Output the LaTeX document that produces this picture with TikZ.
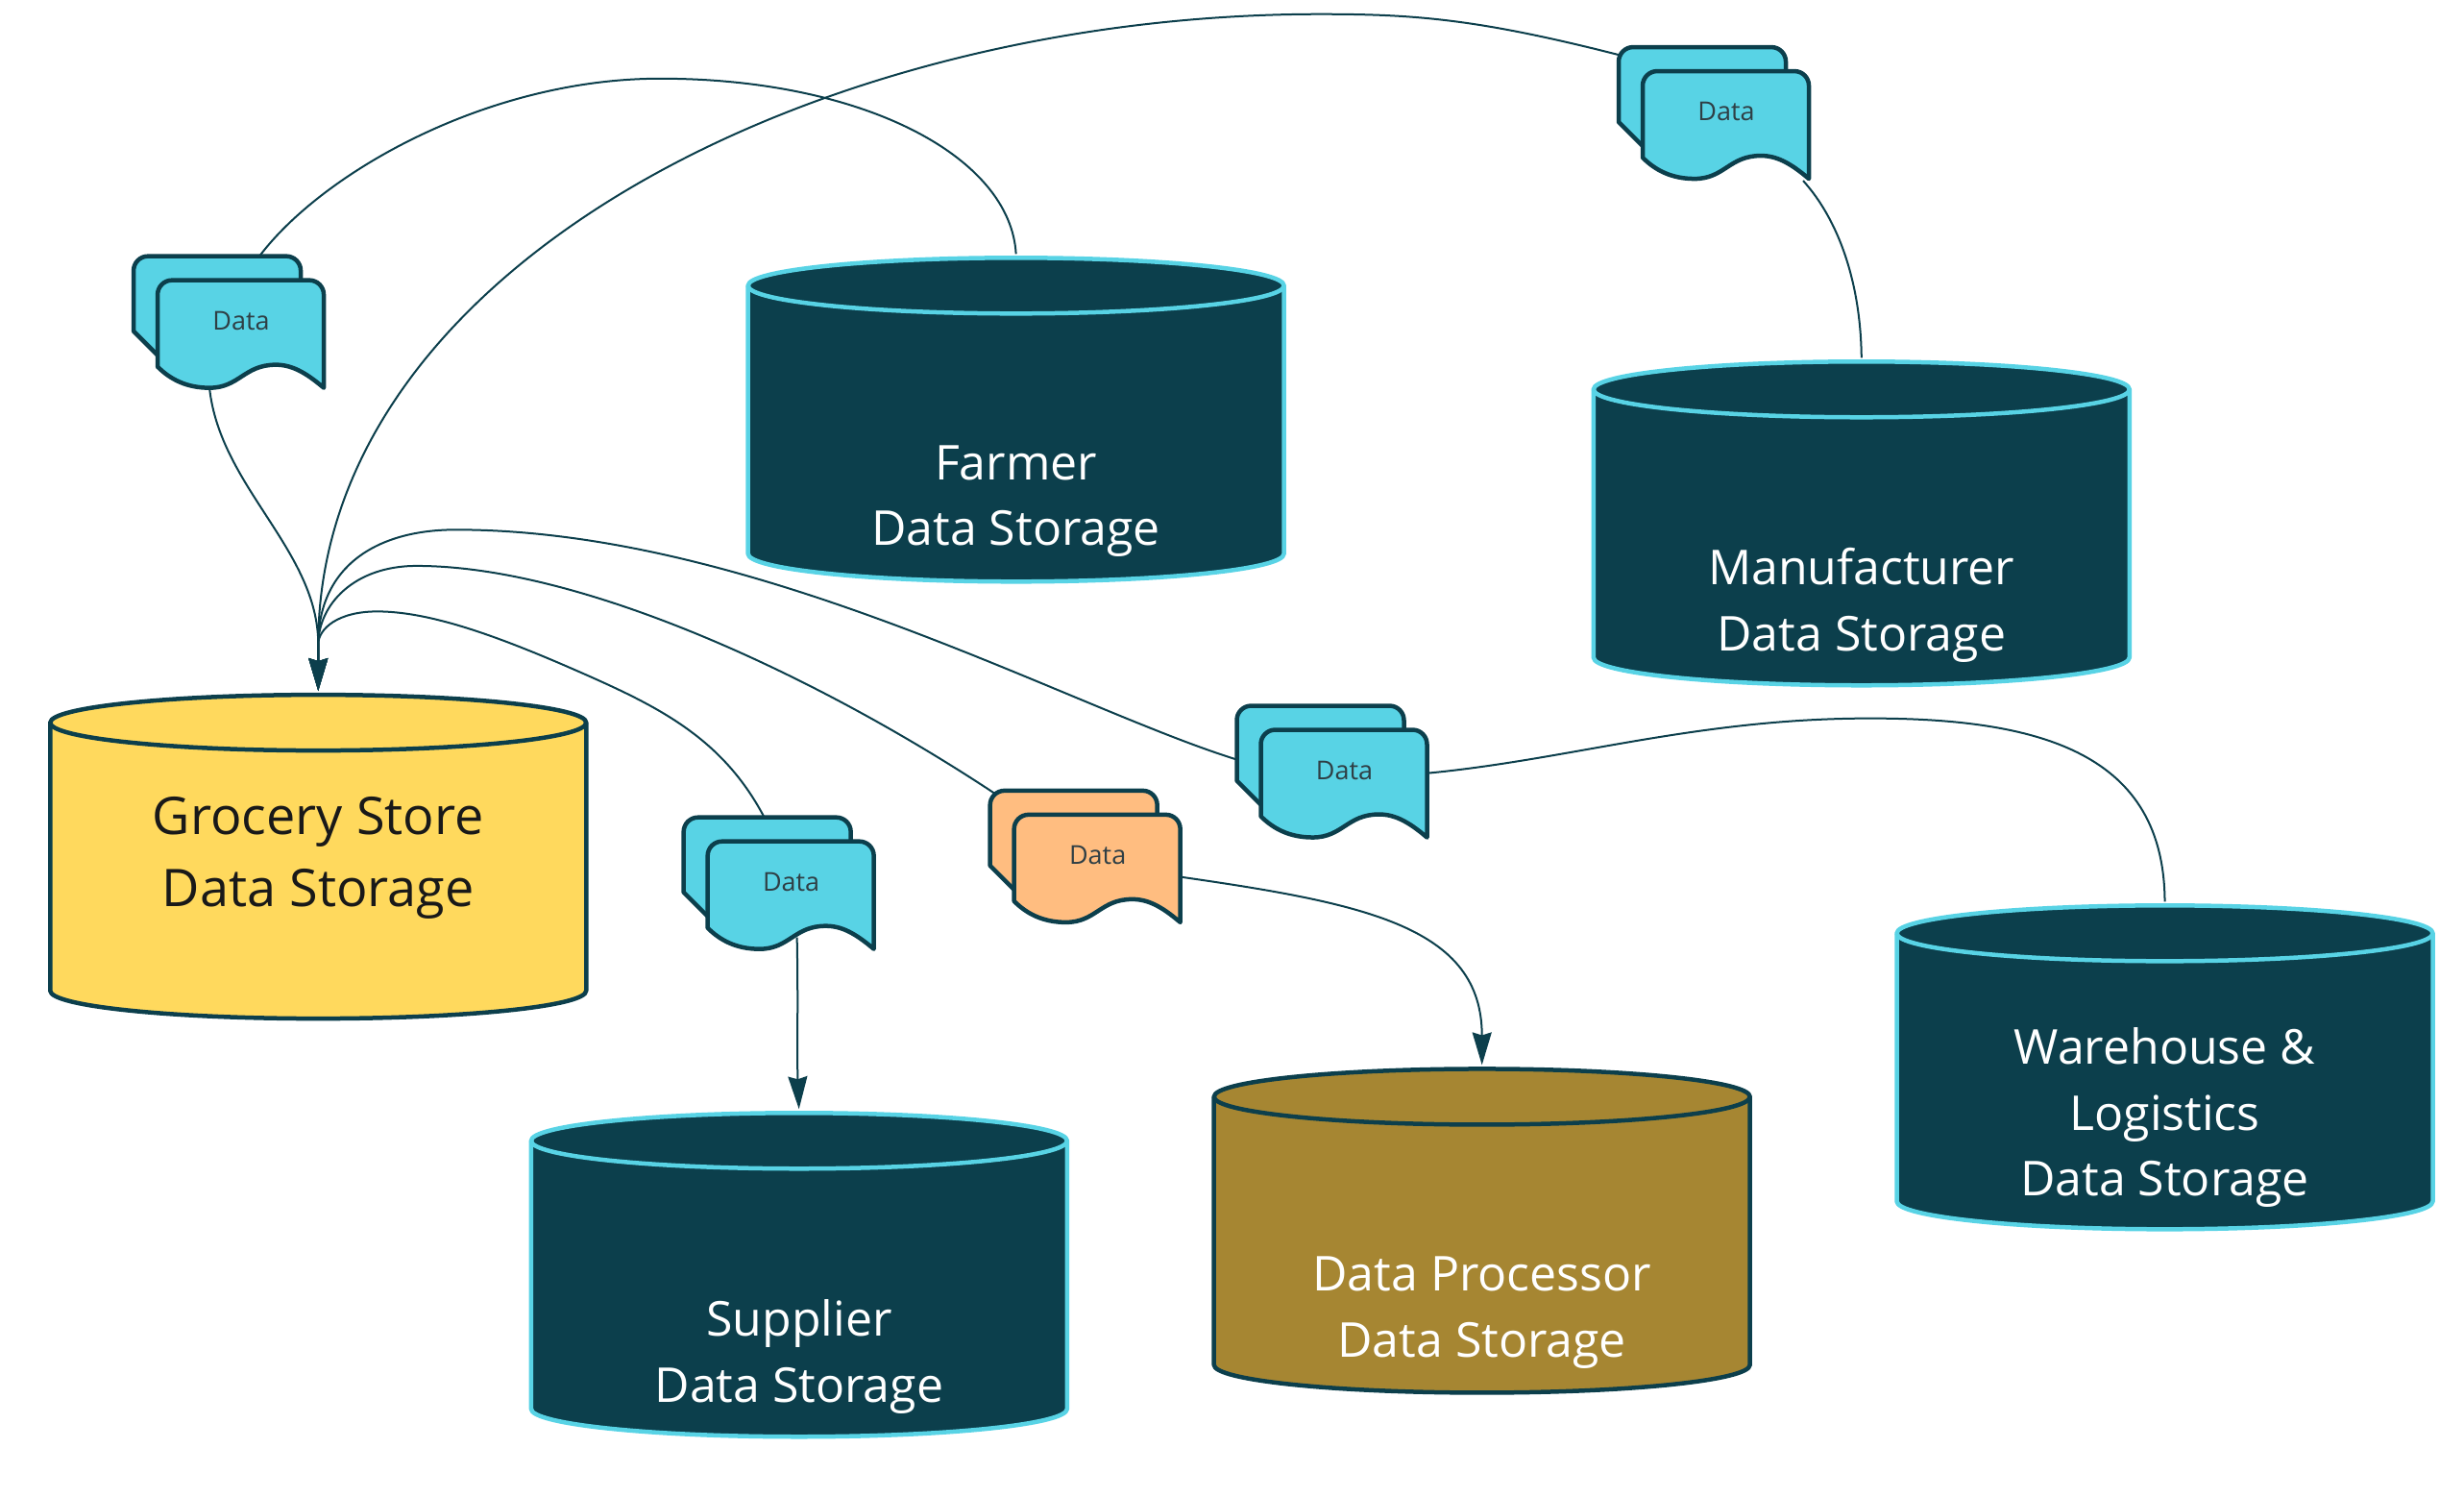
\documentclass[tikz,border=0pt]{standalone}
\usepackage{fontspec}
\setmainfont{Open Sans}
\usetikzlibrary{arrows.meta}
\definecolor{ink}{HTML}{0C3F4C}
\definecolor{cyanb}{HTML}{58D3E5}
\definecolor{goldf}{HTML}{A68632}
\definecolor{yellowf}{HTML}{FFD95D}
\definecolor{orangef}{HTML}{FFBD80}
\definecolor{datagrey}{HTML}{2F3F45}
\tikzset{
  cylbody/.style={minimum width=558pt,minimum height=337pt,inner sep=0pt,outer sep=0pt},
  stackbody/.style={minimum width=198pt,minimum height=135pt,inner sep=0pt,outer sep=0pt,anchor=north west},
  cyltext/.style={text=white,align=center,font=\fontsize{50}{68.5}\selectfont},
  grocerytext/.style={text=black!90,align=center,font=\fontsize{54}{75}\selectfont},
  datatext/.style={text=datagrey,font=\fontsize{27}{32}\selectfont},
  edgeline/.style={draw=ink,line width=2pt},
  flow/.style={edgeline,-{Stealth[length=34pt,width=20pt,inset=3pt]},shorten >=4pt},
  shapeline/.style={line width=4.5pt,line join=round}
}
% name, centre x, centre y, fill, border
\newcommand{\cylshape}[5]{%
  \node[cylbody] (#1) at (#2,#3) {};
  \draw[shapeline,draw=#5,fill=#4]
    ([yshift=-29pt]#1.north west) -- ([yshift=29pt]#1.south west)
    arc[start angle=180,end angle=360,x radius=279pt,y radius=29pt]
    -- ([yshift=-29pt]#1.north east)
    arc[start angle=0,end angle=180,x radius=279pt,y radius=29pt] -- cycle;
  \draw[shapeline,draw=#5]
    ([yshift=-29pt]#1.north west)
    arc[start angle=180,end angle=360,x radius=279pt,y radius=29pt];
}
% name, x, y, fill
\newcommand{\docstack}[4]{%
  \node[stackbody] (#1) at (#2,#3) {};
  \begin{scope}[shift={(#1.north west)}]
    \draw[shapeline,draw=ink,fill=#4] (0pt,-78pt) -- (0pt,-15pt)
      arc[start angle=180,end angle=90,radius=15pt] -- (159pt,0pt)
      arc[start angle=90,end angle=0,radius=15pt] -- (174pt,-90pt) -- (25pt,-103pt) -- cycle;
    \draw[shapeline,draw=ink,fill=#4] (25pt,-115pt) -- (25pt,-40pt)
      arc[start angle=180,end angle=90,radius=15pt] -- (183pt,-25pt)
      arc[start angle=90,end angle=0,radius=15pt] -- (198pt,-137pt)
      .. controls (178pt,-120pt) and (164pt,-113pt) .. (148pt,-113pt)
      .. controls (115pt,-113pt) and (110pt,-137pt) .. (79pt,-137pt)
      .. controls (55pt,-137pt) and (38pt,-128pt) .. (25pt,-115pt) -- cycle;
    \node[datatext] (#1data) at (112pt,-67pt) {Data};
  \end{scope}
}
\begin{document}
\begin{tikzpicture}[x=1.636pt,y=-1.636pt]
\useasboundingbox (0,0) rectangle (1567.9,952.3);
\cylshape{grocery}{202.5}{545}{yellowf}{ink}
\cylshape{farmer}{646.5}{267}{ink}{cyanb}
\cylshape{manufacturer}{1184.5}{333}{ink}{cyanb}
\cylshape{warehouse}{1377.5}{679}{ink}{cyanb}
\cylshape{supplier}{508.5}{811}{ink}{cyanb}
\cylshape{processor}{943}{783}{goldf}{ink}

\node[grocerytext] (grocerylabel) at (202.5,546) {Grocery Store\\Data Storage};
\node[cyltext] (farmerlabel) at (646.5,319) {Farmer\\Data Storage};
\node[cyltext] (manufacturerlabel) at (1184.5,385) {Manufacturer\\Data Storage};
\node[cyltext] (warehouselabel) at (1377.5,711) {Warehouse \&\\Logistics\\Data Storage};
\node[cyltext] (supplierlabel) at (508.5,863) {Supplier\\Data Storage};
\node[cyltext] (processorlabel) at (943,835) {Data Processor\\Data Storage};

\docstack{stacka}{85}{163}{cyanb}
\docstack{stackb}{1030}{30}{cyanb}
\docstack{stackc}{787}{449}{cyanb}
\docstack{stackd}{630}{503}{orangef}
\docstack{stacke}{435}{520}{cyanb}

\coordinate (merge) at (202.5,410);

% Farmer -> stack A -> Grocery
\draw[edgeline] ([yshift=4pt]farmer.north) .. controls (643,100) and (550,50) .. (420,50)
  .. controls (310,50) and (205,110) .. ([xshift=131pt]stacka.north west);
\draw[flow] ([xshift=79pt,yshift=-2pt]stacka.south west) .. controls (140,310) and (202.5,350) .. (merge) -- (grocery.north);
% Manufacturer -> stack B -> Grocery
\draw[edgeline] ([yshift=4pt]manufacturer.north) .. controls (1184,180) and (1170,140) .. ([shift={(-6pt,-4pt)}]stackb.south east);
\draw[flow] ([yshift=-8pt]stackb.north west) .. controls (940,12) and (900,9) .. (840,9)
  .. controls (520,9) and (202.5,170) .. (merge) -- (grocery.north);
% Warehouse -> stack C -> Grocery
\draw[edgeline] ([yshift=4pt]warehouse.north) .. controls (1377,480) and (1300,457) .. (1190,457)
  .. controls (1080,457) and (1000,483) .. ([shift={(2pt,-70pt)}]stackc.north east);
\draw[flow] ([yshift=-56pt]stackc.north west) .. controls (680,450) and (480,337) .. (290,337)
  .. controls (240,337) and (202.5,360) .. (merge) -- (grocery.north);
% Grocery -> stack D -> Processor
\draw[flow] ([shift={(5pt,-3pt)}]stackd.north west) .. controls (520,430) and (370,360) .. (265,360)
  .. controls (225,360) and (202.5,385) .. (merge) -- (grocery.north);
\draw[flow] ([shift={(2pt,-90pt)}]stackd.north east) .. controls (870,575) and (943,590) .. (processor.north);
% Grocery -> stack E -> Supplier
\draw[flow] ([xshift=84pt]stacke.north west) .. controls (460,470) and (420,450) .. (370,428)
  .. controls (320,406) and (275,389) .. (240,389)
  .. controls (215,389) and (202.5,400) .. (merge) -- (grocery.north);
\draw[flow] ([shift={(118pt,10pt)}]stacke.south west) .. controls (508,640) and (507,670) .. (supplier.north);
\end{tikzpicture}
\end{document}
